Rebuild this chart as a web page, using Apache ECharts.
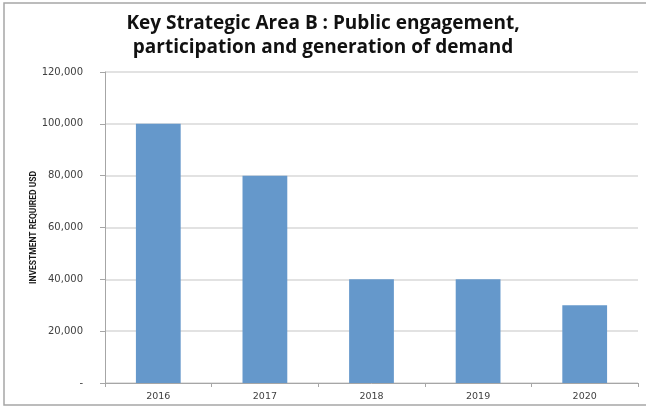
<!DOCTYPE html>
<html>
<head>
<meta charset="utf-8">
<title>Key Strategic Area B</title>
<script src="https://cdn.jsdelivr.net/npm/echarts@6/dist/echarts.min.js"></script>
<style>
html, body { margin: 0; padding: 0; background: #fff; }
#chart { width: 646px; height: 409px; }
</style>
</head>
<body>
<div id="chart"></div>
<script>
// data
var years = ['2016', '2017', '2018', '2019', '2020'];
var investment = [100000, 80000, 40000, 40000, 30000];
var yTicks = [0, 20000, 40000, 60000, 80000, 100000, 120000];

var option = {
    animation: false,
    backgroundColor: '#fff',
    title: {
        text: 'Key Strategic Area B : Public engagement,\nparticipation and generation of demand',
        left: 'center',
        top: 7,
        textStyle: {
            fontFamily: 'Open Sans',
            fontWeight: 'bold',
            fontSize: 19,
            lineHeight: 24,
            color: '#111'
        }
    },
    graphic: [{
        type: 'rect',
        shape: { x: 4, y: 3, width: 700, height: 402 },
        style: { fill: 'none', stroke: '#a6a6a6', lineWidth: 1.5 },
        silent: true
    }],
    grid: { left: 105, right: 8, top: 72, bottom: 26 },
    xAxis: {
        type: 'category',
        data: years,
        axisLine: { lineStyle: { color: '#a6a6a6' } },
        axisTick: { show: true, alignWithLabel: false, length: 4, lineStyle: { color: '#a6a6a6' } },
        axisLabel: { color: '#404040', fontSize: 9.5, fontFamily: 'DejaVu Sans', margin: 9 }
    },
    yAxis: {
        type: 'value',
        min: yTicks[0],
        max: yTicks[yTicks.length - 1],
        interval: 20000,
        name: 'INVESTMENT REQUIRED USD',
        nameLocation: 'middle',
        nameGap: 67,
        nameMoveOverlap: false,
        nameTextStyle: { fontFamily: 'Roboto', fontWeight: 'bold', fontSize: 8.5, color: '#1a1a1a' },
        axisLine: { show: true, lineStyle: { color: '#a6a6a6' } },
        axisTick: { show: true, length: 5, lineStyle: { color: '#a6a6a6' } },
        splitLine: { lineStyle: { color: '#d9d9d9', width: 1.5 } },
        axisLabel: {
            color: '#404040',
            fontSize: 10,
            fontFamily: 'DejaVu Sans',
            margin: 22,
            formatter: function (v) {
                return v === 0 ? '-' : v.toLocaleString('en-US');
            }
        }
    },
    series: [{
        type: 'bar',
        data: investment,
        barWidth: '42%',
        itemStyle: { color: '#6598cb' }
    }]
};

var myChart = echarts.init(document.getElementById('chart'));
myChart.setOption(option);
</script>
</body>
</html>
